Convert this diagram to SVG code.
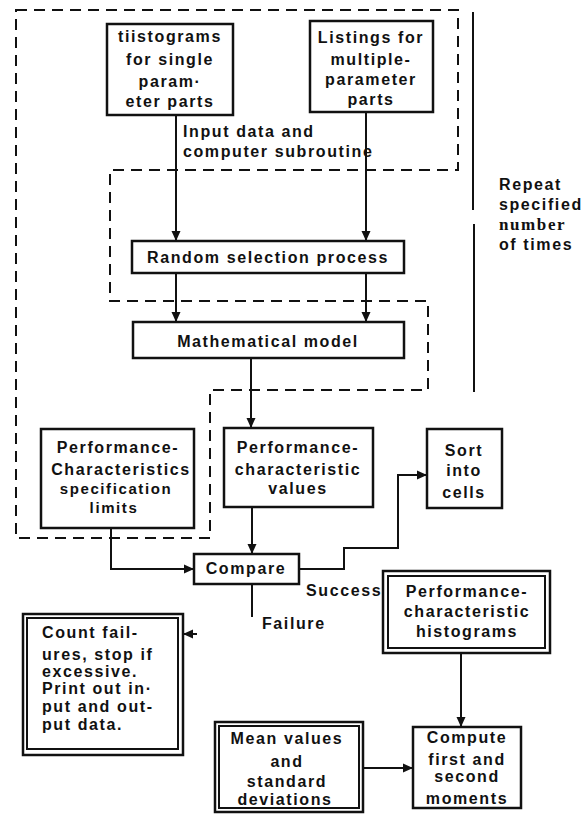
<svg xmlns="http://www.w3.org/2000/svg" width="584" height="815" viewBox="0 0 584 815">
<defs>
<marker id="ah" markerWidth="10" markerHeight="10" refX="9" refY="5" orient="auto" markerUnits="userSpaceOnUse"><path d="M0,0.5 L10,5 L0,9.5 z" fill="#111"/></marker>
</defs>
<style>
.box{fill:#fff;stroke:#111;stroke-width:2.5}
.t{font-family:"Liberation Sans",Arial,sans-serif;font-weight:bold;font-size:16px;letter-spacing:1.6px;fill:#111}
.c{text-anchor:middle}
.ln{fill:none;stroke:#111;stroke-width:2}
.dash{fill:none;stroke:#111;stroke-width:2;stroke-dasharray:11 7}
</style>
<rect width="584" height="815" fill="#fff"/>
<g id="loop">
<path class="dash" d="M16,10 H458 V170 H110 V301 H428 V390 H210 V538 H16 Z"/>
<path class="ln" d="M473,12 V210 M474,224 V392"/>
<text class="t" x="499" y="190">Repeat</text>
<text class="t" x="499" y="210">specified</text>
<text class="t" x="499" y="230" style="font-family:'Liberation Serif',serif;font-size:17px">number</text>
<text class="t" x="499" y="250">of times</text>
</g>
<g id="connectors">
<path class="ln" d="M176,115 V240" marker-end="url(#ah)"/>
<path class="ln" d="M366,112 V240" marker-end="url(#ah)"/>
<path class="ln" d="M176,273 V321" marker-end="url(#ah)"/>
<path class="ln" d="M366,273 V321" marker-end="url(#ah)"/>
<path class="ln" d="M251,358 V427" marker-end="url(#ah)"/>
<path class="ln" d="M252,507 V553" marker-end="url(#ah)"/>
<path class="ln" d="M111,528 V569 H193" marker-end="url(#ah)"/>
<path class="ln" d="M299,569 H344 V548 H398 V475 H426" marker-end="url(#ah)"/>
<path class="ln" d="M252,566 V617"/>
<path class="ln" d="M197,634 H184" marker-end="url(#ah)"/>
<path class="ln" d="M461,653 V726" marker-end="url(#ah)"/>
<path class="ln" d="M363,768 H412" marker-end="url(#ah)"/>
<text class="t" x="183" y="137">Input data and</text>
<text class="t" x="183" y="157">computer subroutine</text>
<text class="t" x="306" y="596">Success</text>
<text class="t" x="262" y="629">Failure</text>
</g>
<g id="histograms-single">
<rect class="box" x="107" y="24" width="126" height="91"/>
<text class="t c" x="170" y="42">tiistograms</text>
<text class="t c" x="170" y="65">for single</text>
<text class="t c" x="170" y="87">param·</text>
<text class="t c" x="170" y="107">eter parts</text>
</g>
<g id="listings-multiple">
<rect class="box" x="310" y="21" width="123" height="91"/>
<text class="t c" x="371" y="43">Listings for</text>
<text class="t c" x="371" y="65">multiple-</text>
<text class="t c" x="371" y="85">parameter</text>
<text class="t c" x="371" y="105">parts</text>
</g>
<g id="random-selection">
<rect class="box" x="132" y="241" width="272" height="32"/>
<text class="t c" x="268" y="263">Random selection process</text>
</g>
<g id="mathematical-model">
<rect class="box" x="133" y="322" width="271" height="36"/>
<text class="t c" x="268" y="347">Mathematical model</text>
</g>
<g id="spec-limits">
<rect class="box" x="41" y="429" width="153" height="99"/>
<text class="t c" x="118" y="453">Performance-</text>
<text class="t c" x="121" y="475">Characteristics</text>
<text class="t c" x="116" y="494" style="font-size:15px">specification</text>
<text class="t c" x="114" y="513" style="font-size:15px">limits</text>
</g>
<g id="perf-values">
<rect class="box" x="224" y="428" width="149" height="79"/>
<text class="t c" x="298" y="453">Performance-</text>
<text class="t c" x="298" y="475">characteristic</text>
<text class="t c" x="298" y="494">values</text>
</g>
<g id="sort-cells">
<rect class="box" x="427" y="429" width="75" height="79"/>
<text class="t c" x="464" y="456">Sort</text>
<text class="t c" x="464" y="476">into</text>
<text class="t c" x="464" y="498">cells</text>
</g>
<g id="compare">
<rect class="box" x="194" y="554" width="105" height="30"/>
<text class="t c" x="246" y="574">Compare</text>
</g>
<g id="perf-histograms">
<rect class="box" x="383" y="571" width="167" height="82"/>
<rect class="box" x="388" y="576" width="157" height="72" style="stroke-width:2"/>
<text class="t c" x="467" y="597">Performance-</text>
<text class="t c" x="467" y="617">characteristic</text>
<text class="t c" x="467" y="637">histograms</text>
</g>
<g id="count-failures">
<rect class="box" x="23" y="614" width="160" height="141"/>
<rect class="box" x="27" y="618" width="151" height="131" style="stroke-width:2"/>
<text class="t" x="42" y="638">Count fail-</text>
<text class="t" x="42" y="660">ures, stop if</text>
<text class="t" x="42" y="677">excessive.</text>
<text class="t" x="42" y="694">Print out in·</text>
<text class="t" x="42" y="712">put and out-</text>
<text class="t" x="42" y="730">put data.</text>
</g>
<g id="mean-values">
<rect class="box" x="215" y="722" width="148" height="90"/>
<rect class="box" x="219" y="726" width="140" height="82" style="stroke-width:2"/>
<text class="t c" x="287" y="744">Mean values</text>
<text class="t c" x="287" y="767">and</text>
<text class="t c" x="287" y="787">standard</text>
<text class="t c" x="285" y="805">deviations</text>
</g>
<g id="compute-moments">
<rect class="box" x="413" y="727" width="108" height="81"/>
<text class="t c" x="467" y="743">Compute</text>
<text class="t c" x="467" y="765">first and</text>
<text class="t c" x="467" y="782">second</text>
<text class="t c" x="467" y="804">moments</text>
</g>
</svg>
